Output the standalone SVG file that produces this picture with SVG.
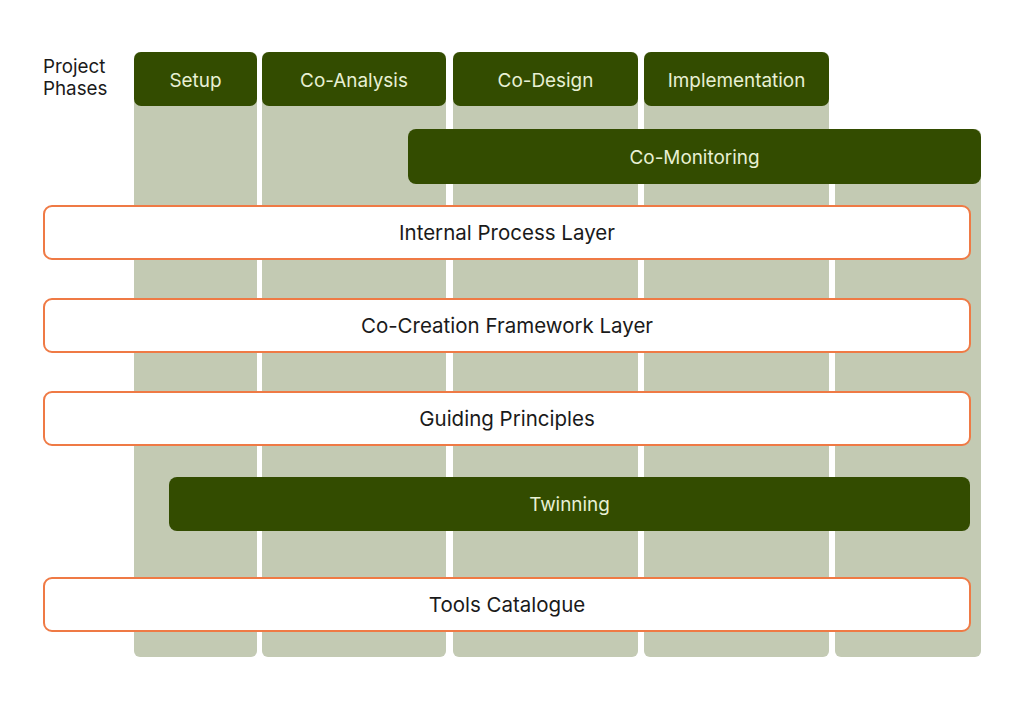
<svg xmlns="http://www.w3.org/2000/svg" width="1024" height="709" viewBox="0 0 1024 709">
<style>
.col{fill:#c3cab3}
.dark{fill:#334c00}
.lt{font-family:Inter,"Liberation Sans",sans-serif;font-size:18.9px;fill:#e8f0d4;text-anchor:middle}
.bar{fill:#ffffff;stroke:#ef7a45;stroke-width:2}
.bt{font-family:Inter,"Liberation Sans",sans-serif;font-size:20.5px;fill:#1a1a1a;text-anchor:middle}
.lbl{font-family:Inter,"Liberation Sans",sans-serif;font-size:18.8px;fill:#1a1a1a}
</style>
<rect width="1024" height="709" fill="#ffffff"/>
<g id="columns">
<rect class="col" x="134" y="52" width="123" height="605" rx="6"/>
<rect class="col" x="262" y="52" width="184" height="605" rx="6"/>
<rect class="col" x="453" y="52" width="185" height="605" rx="6"/>
<rect class="col" x="644" y="52" width="185" height="605" rx="6"/>
<rect class="col" x="835" y="129" width="146" height="528" rx="6"/>
</g>
<g id="label">
<text class="lbl" x="43" y="73">Project</text>
<text class="lbl" x="43" y="95">Phases</text>
</g>
<g id="setup"><rect class="dark" x="134" y="52" width="123" height="54" rx="7"/><text class="lt" x="195.5" y="87">Setup</text></g>
<g id="co-analysis"><rect class="dark" x="262" y="52" width="184" height="54" rx="7"/><text class="lt" x="354" y="87">Co-Analysis</text></g>
<g id="co-design"><rect class="dark" x="453" y="52" width="185" height="54" rx="7"/><text class="lt" x="545.5" y="87">Co-Design</text></g>
<g id="implementation"><rect class="dark" x="644" y="52" width="185" height="54" rx="7"/><text class="lt" x="736.5" y="87">Implementation</text></g>
<g id="co-monitoring"><rect class="dark" x="408" y="129" width="573" height="55" rx="8"/><text class="lt" x="694.5" y="164">Co-Monitoring</text></g>
<g id="internal"><rect class="bar" x="44" y="206" width="926" height="53" rx="8"/><text class="bt" x="507" y="240">Internal Process Layer</text></g>
<g id="cocreation"><rect class="bar" x="44" y="299" width="926" height="53" rx="8"/><text class="bt" x="507" y="333">Co-Creation Framework Layer</text></g>
<g id="guiding"><rect class="bar" x="44" y="392" width="926" height="53" rx="8"/><text class="bt" x="507" y="426">Guiding Principles</text></g>
<g id="twinning"><rect class="dark" x="169" y="477" width="801" height="54" rx="8"/><text class="lt" x="569.5" y="511">Twinning</text></g>
<g id="tools"><rect class="bar" x="44" y="578" width="926" height="53" rx="8"/><text class="bt" x="507" y="612">Tools Catalogue</text></g>
<g id="connectors"/>
</svg>
